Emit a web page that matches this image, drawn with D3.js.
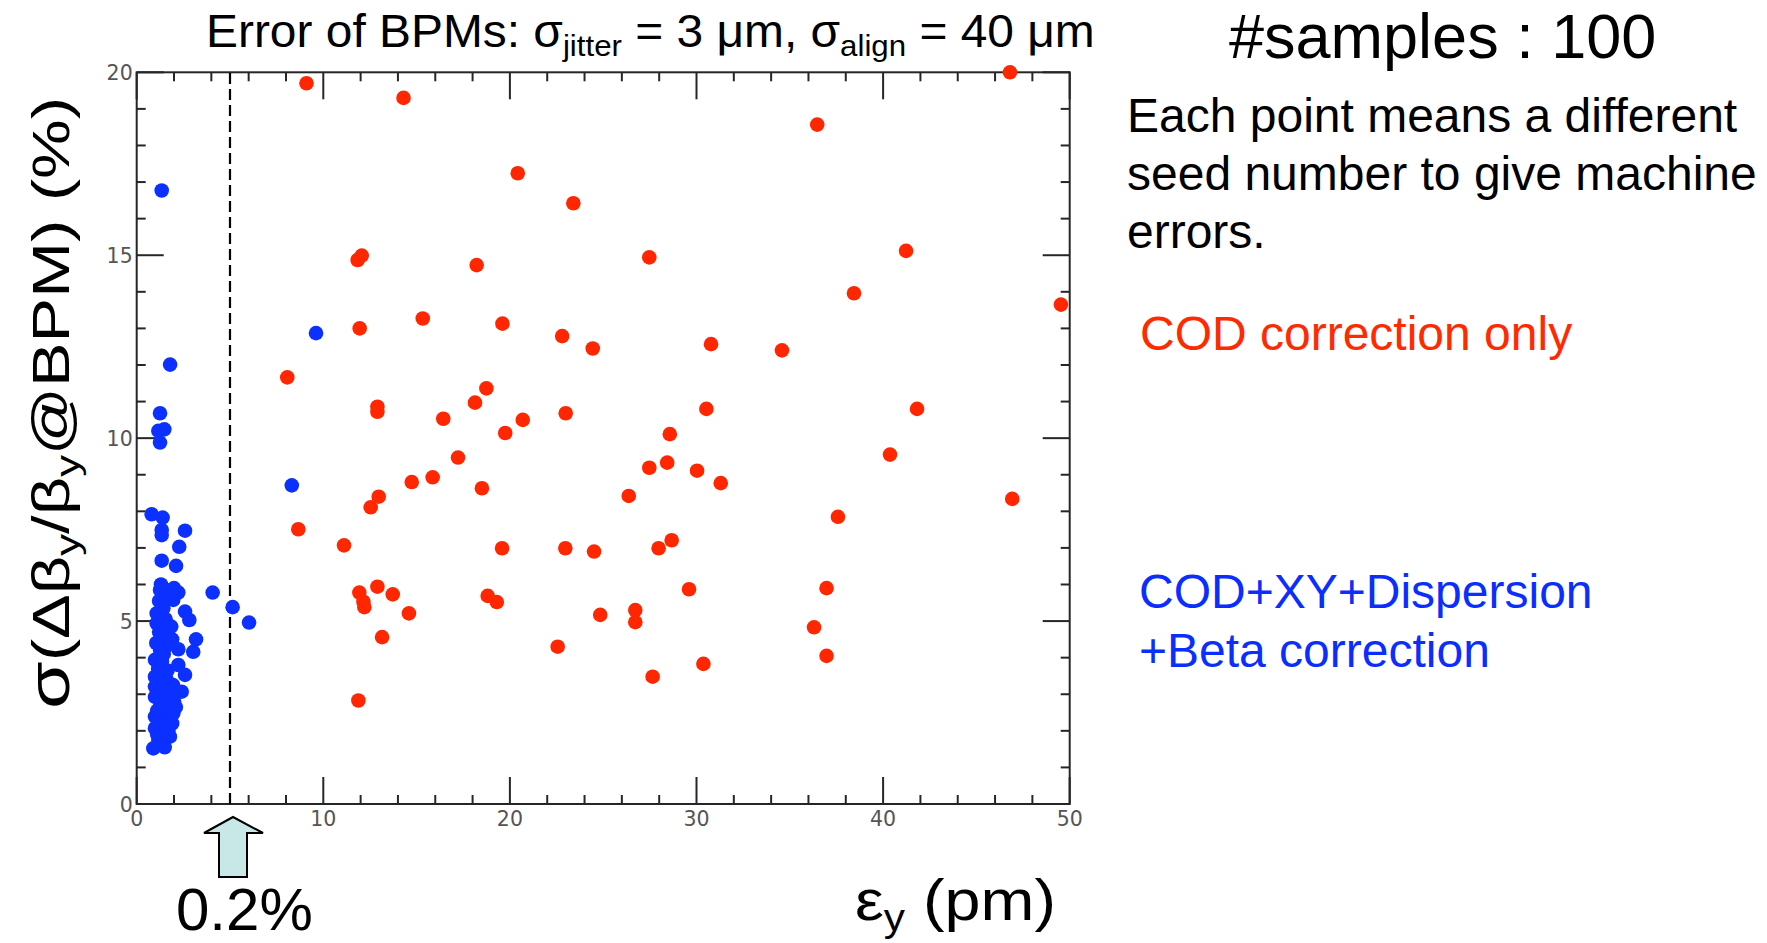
<!DOCTYPE html>
<html><head><meta charset="utf-8">
<script src="https://cdn.jsdelivr.net/npm/d3@7"></script>
<style>
html,body{margin:0;padding:0;background:#fff;}
svg{display:block;}
</style></head>
<body>
<script>
// ---------- data ----------
const codOnly = [
 [9.1,19.7],[14.3,19.3],[46.8,20.0],[36.47,18.57],[20.42,17.24],[23.4,16.42],
 [11.84,14.87],[12.06,14.99],[18.22,14.73],[27.47,14.94],[41.23,15.12],[38.44,13.96],
 [49.53,13.65],[15.33,13.27],[19.6,13.13],[11.95,13.0],[22.8,12.79],[24.44,12.45],
 [30.78,12.57],[34.58,12.4],[8.07,11.66],[18.74,11.36],[18.13,10.97],[12.9,10.86],
 [12.9,10.72],[16.43,10.53],[20.69,10.5],[22.99,10.68],[30.53,10.8],[41.82,10.8],
 [19.75,10.14],[28.57,10.11],[17.22,9.47],[40.37,9.55],[27.47,9.19],[28.43,9.33],
 [30.03,9.11],[31.3,8.77],[26.37,8.42],[18.5,8.63],[15.86,8.93],[14.74,8.8],
 [12.97,8.4],[12.54,8.11],[46.92,8.34],[37.58,7.85],[8.66,7.51],[11.11,7.07],
 [19.58,6.99],[22.97,6.99],[24.51,6.9],[27.97,6.99],[28.67,7.21],[12.9,5.94],
 [11.93,5.78],[13.72,5.73],[12.15,5.53],[12.2,5.38],[18.81,5.69],[19.3,5.52],
 [29.6,5.87],[36.97,5.9],[14.59,5.21],[24.84,5.17],[26.72,5.3],[26.72,4.97],
 [36.3,4.83],[13.15,4.56],[22.56,4.3],[36.97,4.05],[30.37,3.83],[27.65,3.48],
 [11.88,2.83]
];
const codFull = [
 [1.34,16.77],[9.61,12.87],[1.79,12.01],[1.25,10.68],[1.16,10.2],[1.48,10.24],[1.25,9.88],
 [8.31,8.71],[4.07,5.78],[5.14,5.38],[6.02,4.96],
 [0.80,7.92],[1.39,7.83],[1.34,7.49],[1.34,7.35],[2.59,7.47],[2.28,7.03],[1.34,6.65],
 [2.11,6.51],[1.25,5.85],[1.78,5.76],[2.23,5.78],[1.96,5.58],[1.43,5.35],[1.07,5.21],
 [2.59,5.26],[2.82,5.03],[1.07,4.94],[1.39,4.71],[3.18,4.5],[1.69,4.48],[2.23,4.23],
 [3.03,4.16],[1.25,4.21],[0.98,3.94],[1.34,3.75],[2.23,3.80],[2.59,3.53],[0.98,3.48],
 [1.61,3.39],[0.98,3.21],[2.41,3.07],[1.52,3.03],[0.98,2.93],[1.25,2.66],[1.96,2.48],
 [0.98,2.39],[1.61,2.11],[0.98,2.07],[1.78,1.84],[1.16,1.75],[0.89,1.52],
 [1.45,1.7],[1.3,2.0],[1.55,2.3],[1.3,2.4],[1.6,2.6],[1.3,2.8],[1.75,2.85],[1.3,3.15],
 [1.55,3.3],[1.3,3.55],[1.65,3.65],[1.35,3.9],[1.45,4.1],[1.3,4.4],[1.55,4.3],[1.2,4.7],
 [1.6,4.75],[1.25,5.0],[1.55,5.05],[1.2,5.55],[1.5,5.65],[1.9,2.2],[2.0,2.8],[1.95,3.25],
 [1.8,3.05],[1.15,3.35],[1.9,4.5],[1.1,2.55],[1.7,2.0],[1.5,1.55],[1.85,4.85],[1.3,6.0],
 [1.6,5.85],[2.0,5.9],[1.05,4.4],[1.4,2.15],[1.15,3.7],[1.7,4.5],[2.1,2.65],[1.1,1.9]
];
const xTickLabels = [0,10,20,30,40,50];
const yTickLabels = [0,5,10,15,20];
const thresholdX = 5;

// ---------- layout ----------
const W = 1767, H = 943;
const L = 136.7, R = 1069.7, T = 72.3, B = 804;
const RED = "#ff2600", BLUE = "#0b30ff";
const SANS = "'Liberation Sans', Arial, Helvetica, sans-serif";

const svg = d3.select("body").append("svg").attr("width", W).attr("height", H);
const x = d3.scaleLinear().domain([0,50]).range([L,R]);
const y = d3.scaleLinear().domain([0,20]).range([B,T]);

// frame + ticks (mirrored, inward)
const axisColor = "#262626";
const g = svg.append("g").attr("stroke", axisColor).attr("stroke-width", 2).attr("fill","none");
g.append("rect").attr("x", L).attr("y", T).attr("width", R-L).attr("height", B-T);
const MAJ = 27, MIN = 9;
d3.range(0, 51, 2).forEach(v => {
  const len = (v % 10 === 0) ? MAJ : MIN;
  g.append("line").attr("x1", x(v)).attr("x2", x(v)).attr("y1", B).attr("y2", B-len);
  g.append("line").attr("x1", x(v)).attr("x2", x(v)).attr("y1", T).attr("y2", T+len);
});
d3.range(0, 21, 1).forEach(v => {
  const len = (v % 5 === 0) ? MAJ : MIN;
  g.append("line").attr("y1", y(v)).attr("y2", y(v)).attr("x1", L).attr("x2", L+len);
  g.append("line").attr("y1", y(v)).attr("y2", y(v)).attr("x1", R).attr("x2", R-len);
});

// tick labels
const tickFont = "'DejaVu Sans', Verdana, sans-serif";
svg.append("g").selectAll("text").data(xTickLabels).join("text")
  .attr("x", d => x(d)).attr("y", B + 22)
  .attr("text-anchor","middle").attr("font-family", tickFont)
  .attr("font-size", 20.5).attr("fill", "#555").text(d => d);
svg.append("g").selectAll("text").data(yTickLabels).join("text")
  .attr("x", L - 4).attr("y", d => y(d) + 7.5)
  .attr("text-anchor","end").attr("font-family", tickFont)
  .attr("font-size", 20.5).attr("fill", "#555").text(d => d);

// threshold dashed line
svg.append("line").attr("x1", x(thresholdX)).attr("x2", x(thresholdX))
  .attr("y1", y(0)).attr("y2", y(20))
  .attr("stroke", "#000").attr("stroke-width", 2.2).attr("stroke-dasharray", "11,5");

// points
const R_DOT = 7.3;
svg.append("g").selectAll("circle").data(codOnly).join("circle")
  .attr("cx", d => x(d[0])).attr("cy", d => y(d[1])).attr("r", R_DOT).attr("fill", RED);
svg.append("g").selectAll("circle").data(codFull).join("circle")
  .attr("cx", d => x(d[0])).attr("cy", d => y(d[1])).attr("r", R_DOT).attr("fill", BLUE);

// arrow under threshold
const ax = x(thresholdX) + 3;
const arrowPts = [[ax,817],[ax+30,833],[ax+14,833],[ax+14,877],[ax-14,877],[ax-14,833],[ax-29,833]];
svg.append("polygon").attr("points", arrowPts.map(p => p.join(",")).join(" "))
  .attr("fill", "#c8e8e8").attr("stroke", "#000").attr("stroke-width", 2).attr("stroke-linejoin","miter");

// helper to fit text horizontally
function fitH(sel, x0, base, w) {
  const bb = sel.node().getBBox();
  const s = w / bb.width;
  sel.attr("transform", `translate(${x0 - bb.x*s},${base}) scale(${s},1)`);
}

// title
const title = svg.append("text").attr("font-family", SANS).attr("font-size", 46).attr("fill", "#000");
title.append("tspan").text("Error of BPMs: σ");
title.append("tspan").attr("font-size", 30).attr("dy", 9).text("jitter");
title.append("tspan").attr("dy", -9).text(" = 3 μm, σ");
title.append("tspan").attr("font-size", 30).attr("dy", 9).text("align");
title.append("tspan").attr("dy", -9).text(" = 40 μm");
fitH(title, 206, 47, 889);

// y label
const yl = svg.append("text").attr("font-family", SANS).attr("font-size", 52).attr("fill", "#000");
yl.append("tspan").attr("font-size", 60).text("σ");
yl.append("tspan").text("(Δβ");
yl.append("tspan").attr("font-size", 34).attr("dy", 10).text("y");
yl.append("tspan").attr("dy", -10).text("/β");
yl.append("tspan").attr("font-size", 34).attr("dy", 10).text("y");
yl.append("tspan").attr("dy", -10).text("@BPM) (%)");
{
  const bb = yl.node().getBBox();
  const s = 612 / bb.width;
  yl.attr("transform", `translate(69,403) rotate(-90) scale(${s},1) translate(${-(bb.x + bb.width/2)},0)`);
}

// x label
const xl = svg.append("text").attr("font-family", SANS).attr("font-size", 58).attr("fill", "#000");
xl.append("tspan").text("ε");
xl.append("tspan").attr("font-size", 38).attr("dy", 11).text("y");
xl.append("tspan").attr("dy", -11).text(" (pm)");
fitH(xl, 855, 920, 201);

// 0.2%
svg.append("text").attr("x", 176).attr("y", 930).attr("font-family", SANS)
  .attr("font-size", 60).attr("fill", "#000").text("0.2%");

// right side annotations
svg.append("text").attr("x", 1229).attr("y", 58).attr("font-family", SANS)
  .attr("font-size", 63).attr("fill", "#000").text("#samples : 100");
const desc = ["Each point means a different", "seed number to give machine", "errors."];
svg.append("g").selectAll("text").data(desc).join("text")
  .attr("x", 1127).attr("y", (d,i) => 132 + i*58).attr("font-family", SANS)
  .attr("font-size", 48).attr("fill", "#000").text(d => d);
svg.append("text").attr("x", 1140).attr("y", 350).attr("font-family", SANS)
  .attr("font-size", 48).attr("fill", "#ff2a00").text("COD correction only");
const blueLines = ["COD+XY+Dispersion", "+Beta correction"];
svg.append("g").selectAll("text").data(blueLines).join("text")
  .attr("x", 1139).attr("y", (d,i) => 608 + i*59).attr("font-family", SANS)
  .attr("font-size", 48).attr("fill", "#0a2eff").text(d => d);
</script>
</body></html>
